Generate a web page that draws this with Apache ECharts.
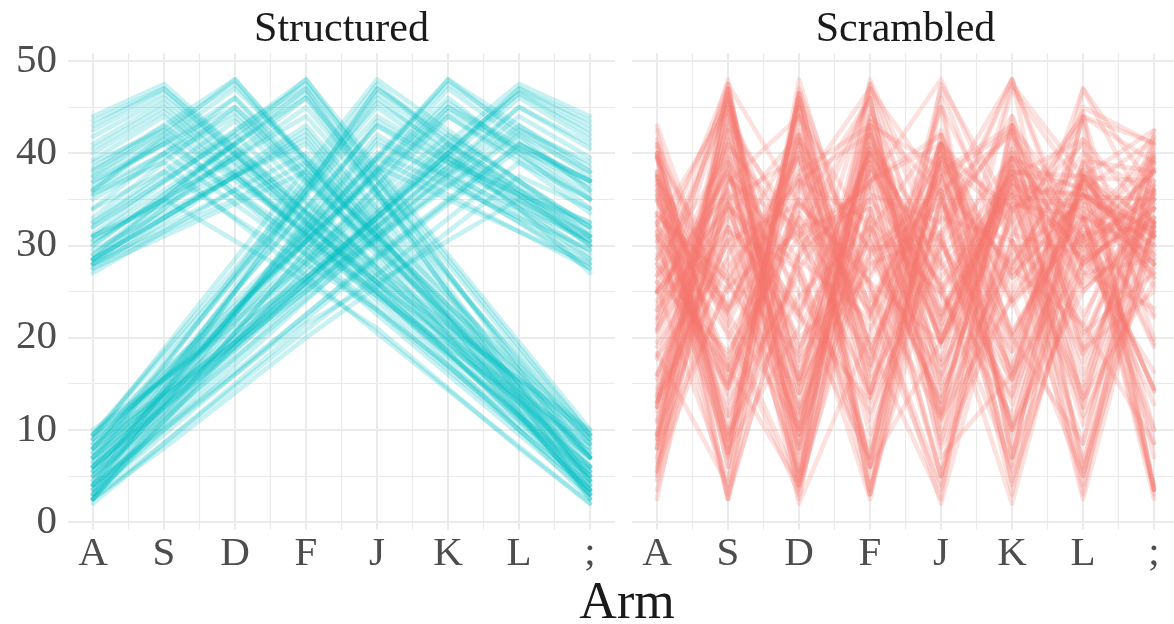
<!DOCTYPE html>
<html>
<head>
<meta charset="utf-8">
<script src="https://cdn.jsdelivr.net/npm/echarts/dist/echarts.min.js"></script>
<style>
  html, body { margin: 0; padding: 0; background: #ffffff; }
  #chart { width: 1174px; height: 624px; }
</style>
</head>
<body>
<div id="chart"></div>
<script>
// Arms, in the order they appear on the keyboard home row
const categories = ['A', 'S', 'D', 'F', 'J', 'K', 'L', ';'];
const yTicks = [0, 10, 20, 30, 40, 50];

// Structured rewards, grouped by the arm that holds the best reward
const structuredPeakS = [
  [43.0, 47.0, 39.8, 32.7, 25.5, 18.3, 11.2, 4.0],
  [40.5, 45.0, 38.7, 32.3, 26.0, 19.7, 13.3, 7.0],
  [38.2, 42.0, 35.5, 29.0, 22.5, 16.0, 9.5, 3.0],
  [41.8, 46.0, 39.8, 33.7, 27.5, 21.3, 15.2, 9.0],
  [35.6, 39.0, 32.8, 26.7, 20.5, 14.3, 8.2, 2.0],
  [39.3, 44.0, 37.6, 31.2, 24.8, 18.3, 11.9, 5.5],
  [44.0, 47.5, 40.6, 33.7, 26.8, 19.8, 12.9, 6.0],
  [36.9, 41.0, 35.5, 30.0, 24.5, 19.0, 13.5, 8.0],
  [38.5, 43.0, 37.5, 32.0, 26.5, 21.0, 15.5, 10.0],
  [31.0, 35.0, 30.5, 26.0, 21.0, 14.5, 8.0, 2.0],
  [42.5, 46.5, 40.0, 33.5, 27.0, 20.5, 14.0, 7.5],
  [37.5, 41.5, 36.0, 30.5, 25.0, 19.0, 13.0, 7.0],
  [40.0, 44.5, 38.0, 31.0, 24.0, 17.0, 10.0, 3.5],
  [36.0, 40.0, 34.5, 29.0, 23.0, 17.0, 11.0, 5.0],
  [43.5, 47.0, 40.5, 34.5, 28.0, 21.5, 15.5, 9.5],
  [34.0, 38.0, 33.0, 28.0, 23.0, 16.5, 10.0, 3.5],
  [41.0, 45.5, 39.0, 32.5, 25.5, 18.5, 11.5, 4.5],
  [39.0, 42.5, 37.0, 31.5, 26.0, 20.0, 14.0, 8.5]
];
const structuredPeakD = [
  [38.0, 43.0, 48.0, 39.4, 30.8, 22.2, 13.6, 5.0],
  [34.0, 40.0, 46.0, 37.4, 28.8, 20.2, 11.6, 3.0],
  [35.0, 39.5, 44.0, 36.8, 29.6, 22.4, 15.2, 8.0],
  [27.0, 31.5, 36.0, 29.6, 23.2, 16.8, 10.4, 4.0],
  [32.0, 37.0, 42.0, 34.8, 27.6, 20.4, 13.2, 6.0],
  [36.0, 41.5, 47.0, 39.5, 32.0, 24.5, 17.0, 9.5],
  [29.0, 34.5, 40.0, 32.5, 25.0, 17.5, 10.0, 2.5],
  [37.0, 41.0, 45.0, 37.4, 29.8, 22.2, 14.6, 7.0],
  [31.0, 34.5, 38.0, 31.4, 24.8, 18.2, 11.6, 5.0],
  [36.0, 42.0, 48.0, 39.1, 30.2, 21.3, 12.4, 3.5],
  [33.0, 39.0, 45.0, 38.0, 31.0, 23.5, 16.5, 9.0],
  [30.0, 35.5, 41.0, 33.5, 26.0, 18.5, 11.0, 3.5],
  [37.5, 42.5, 47.5, 39.0, 30.5, 21.5, 13.0, 4.5],
  [28.5, 33.0, 37.5, 31.0, 24.5, 18.0, 11.5, 5.5],
  [35.5, 40.0, 44.5, 37.0, 29.5, 22.0, 14.5, 7.5],
  [32.5, 38.0, 43.5, 35.5, 27.5, 19.5, 11.5, 3.0],
  [36.5, 41.0, 46.0, 38.5, 31.0, 23.5, 16.0, 8.5],
  [30.5, 35.0, 39.5, 33.0, 26.0, 19.5, 12.5, 6.0]
];
const structuredPeakF = [
  [31.2, 36.8, 42.4, 48.0, 38.5, 29.0, 19.5, 10.0],
  [28.0, 34.0, 40.0, 46.0, 35.5, 25.0, 14.5, 4.0],
  [28.0, 33.0, 38.0, 43.0, 34.0, 25.0, 16.0, 7.0],
  [32.0, 37.0, 42.0, 47.0, 35.9, 24.8, 13.6, 2.5],
  [28.0, 32.0, 36.0, 40.0, 31.3, 22.5, 13.8, 5.0],
  [28.5, 34.0, 39.5, 45.0, 35.9, 26.8, 17.6, 8.5],
  [28.5, 35.0, 41.5, 48.0, 37.5, 27.0, 16.5, 6.0],
  [27.5, 31.0, 34.5, 38.0, 29.3, 20.5, 11.8, 3.0],
  [30.5, 35.0, 39.5, 44.0, 35.3, 26.5, 17.8, 9.0],
  [28.5, 33.0, 37.5, 42.0, 32.6, 23.3, 13.9, 4.5],
  [29.0, 35.0, 41.0, 47.0, 37.0, 27.0, 17.0, 7.0],
  [27.5, 32.5, 37.5, 42.5, 33.5, 24.0, 14.5, 5.5],
  [31.0, 36.0, 41.0, 46.0, 37.0, 28.0, 18.5, 9.5],
  [29.5, 33.5, 37.5, 41.5, 32.0, 22.5, 13.0, 3.5],
  [30.0, 35.5, 41.0, 46.5, 36.0, 25.5, 15.0, 4.5],
  [28.0, 31.5, 35.0, 39.0, 31.0, 23.0, 15.0, 7.0],
  [32.5, 37.5, 42.5, 47.5, 38.0, 28.5, 19.0, 9.5],
  [28.5, 33.0, 37.5, 41.0, 31.5, 22.0, 12.0, 2.5]
];
const structuredPeakJ = [
  [9.0, 18.8, 28.5, 38.3, 48.0, 42.5, 37.0, 31.5],
  [4.0, 14.5, 25.0, 35.5, 46.0, 40.0, 34.0, 27.0],
  [7.0, 16.0, 25.0, 34.0, 43.0, 38.0, 33.5, 29.5],
  [3.0, 14.0, 25.0, 36.0, 47.0, 42.0, 37.0, 32.0],
  [5.5, 14.1, 22.8, 31.4, 40.0, 36.5, 33.0, 29.5],
  [8.0, 17.3, 26.5, 35.8, 45.0, 39.5, 34.0, 28.5],
  [6.5, 16.8, 27.0, 37.3, 47.5, 41.0, 36.0, 31.0],
  [2.5, 11.5, 20.5, 29.5, 38.5, 35.0, 31.5, 28.0],
  [9.5, 18.1, 26.8, 35.4, 44.0, 39.5, 35.0, 30.5],
  [4.0, 13.5, 23.0, 32.5, 42.0, 37.5, 33.0, 28.5],
  [7.5, 17.0, 26.5, 36.5, 46.5, 41.0, 35.5, 30.0],
  [3.5, 13.0, 22.5, 32.0, 41.5, 37.0, 32.5, 27.5],
  [9.5, 18.5, 27.5, 36.5, 45.5, 40.5, 35.5, 31.0],
  [5.0, 14.0, 23.0, 32.0, 41.0, 37.5, 34.0, 30.5],
  [4.5, 15.0, 25.5, 36.0, 47.0, 41.5, 36.0, 30.0],
  [8.0, 16.0, 24.0, 31.5, 39.5, 35.5, 31.5, 27.5],
  [2.5, 12.5, 22.5, 33.0, 43.5, 39.0, 34.5, 29.0],
  [6.0, 15.5, 25.0, 34.0, 43.0, 39.0, 35.5, 32.5]
];
const structuredPeakK = [
  [4.0, 12.8, 21.6, 30.4, 39.2, 48.0, 43.0, 38.0],
  [7.0, 14.8, 22.6, 30.4, 38.2, 46.0, 40.0, 34.0],
  [2.5, 10.8, 19.1, 27.4, 35.7, 44.0, 39.5, 35.0],
  [5.0, 11.4, 17.8, 24.2, 30.6, 37.0, 32.5, 28.0],
  [9.0, 15.6, 22.2, 28.8, 35.4, 42.0, 37.0, 32.0],
  [3.0, 11.8, 20.6, 29.4, 38.2, 47.0, 41.5, 36.0],
  [6.0, 12.8, 19.6, 26.4, 33.2, 40.0, 35.0, 30.0],
  [8.5, 15.8, 23.1, 30.4, 37.7, 45.0, 41.0, 37.0],
  [3.5, 10.6, 17.7, 24.8, 31.9, 39.0, 35.5, 32.0],
  [6.0, 14.4, 22.8, 31.2, 39.6, 48.0, 42.0, 36.0],
  [8.0, 15.5, 23.0, 30.5, 38.0, 45.5, 40.5, 35.5],
  [3.5, 11.0, 18.5, 26.0, 33.5, 41.0, 36.5, 31.0],
  [5.5, 14.0, 22.5, 31.0, 39.5, 47.5, 42.5, 37.5],
  [6.5, 13.0, 19.5, 26.0, 32.5, 38.5, 34.5, 30.5],
  [2.5, 11.0, 19.5, 28.0, 36.5, 45.0, 40.0, 35.0],
  [9.5, 16.5, 23.5, 30.5, 37.5, 44.0, 39.0, 33.5],
  [4.5, 12.5, 20.5, 28.5, 36.5, 44.5, 40.5, 37.0],
  [7.0, 13.5, 20.0, 26.5, 33.0, 39.5, 36.0, 32.5]
];
const structuredPeakL = [
  [5.0, 12.0, 19.0, 26.0, 33.0, 40.0, 47.0, 43.0],
  [3.0, 10.0, 17.0, 24.0, 31.0, 38.0, 45.0, 40.5],
  [8.0, 13.7, 19.3, 25.0, 30.7, 36.3, 42.0, 38.0],
  [7.0, 13.5, 20.0, 26.5, 33.0, 39.5, 46.0, 41.5],
  [2.5, 8.6, 14.7, 20.8, 26.8, 32.9, 39.0, 35.0],
  [6.0, 12.3, 18.7, 25.0, 31.3, 37.7, 44.0, 39.5],
  [9.0, 15.4, 21.8, 28.3, 34.7, 41.1, 47.5, 44.0],
  [4.0, 10.2, 16.3, 22.5, 28.7, 34.8, 41.0, 37.0],
  [2.0, 8.5, 15.0, 21.5, 26.0, 30.5, 35.0, 31.0],
  [10.0, 15.5, 21.0, 26.5, 32.0, 37.5, 43.0, 38.5],
  [7.5, 14.0, 20.5, 27.0, 33.5, 40.0, 46.5, 42.5],
  [4.0, 10.0, 16.0, 22.5, 29.0, 35.0, 41.0, 37.0],
  [9.5, 15.5, 21.5, 28.0, 34.0, 40.5, 46.5, 42.0],
  [3.0, 9.5, 16.0, 22.0, 28.5, 34.5, 40.5, 36.5],
  [5.5, 12.5, 19.5, 26.0, 33.0, 40.0, 47.0, 43.5],
  [2.5, 8.0, 14.0, 20.0, 25.5, 31.5, 37.5, 34.0],
  [8.5, 14.0, 19.5, 25.5, 31.0, 36.5, 42.5, 39.0],
  [6.0, 12.5, 19.0, 25.5, 32.0, 38.5, 45.0, 41.0]
];

// Scrambled rewards: the same kinds of reward sets with the arms shuffled
const scrambledSetS = [
  [18.3, 4.0, 47.0, 25.5, 11.2, 43.0, 32.7, 39.8],
  [32.3, 45.0, 7.0, 40.5, 19.7, 38.7, 13.3, 26.0],
  [9.5, 29.0, 42.0, 3.0, 35.5, 16.0, 38.2, 22.5],
  [39.8, 15.2, 33.7, 46.0, 9.0, 27.5, 21.3, 41.8],
  [26.7, 35.6, 2.0, 20.5, 39.0, 8.2, 32.8, 14.3],
  [5.5, 37.6, 24.8, 11.9, 31.2, 44.0, 18.3, 39.3],
  [40.6, 12.9, 26.8, 6.0, 47.5, 33.7, 44.0, 19.8],
  [13.5, 41.0, 30.0, 36.9, 8.0, 24.5, 35.5, 19.0],
  [21.0, 32.0, 10.0, 43.0, 38.5, 15.5, 37.5, 26.5],
  [30.5, 8.0, 21.0, 35.0, 26.0, 2.0, 31.0, 14.5],
  [40.0, 7.5, 46.5, 14.0, 33.5, 42.5, 20.5, 27.0],
  [25.0, 36.0, 19.0, 30.5, 13.0, 37.5, 41.5, 7.0],
  [24.0, 38.0, 17.0, 40.0, 10.0, 31.0, 44.5, 3.5],
  [11.0, 34.5, 23.0, 40.0, 17.0, 29.0, 5.0, 36.0],
  [9.5, 47.0, 15.5, 43.5, 21.5, 40.5, 28.0, 34.5],
  [28.0, 16.5, 33.0, 23.0, 3.5, 34.0, 38.0, 10.0],
  [32.5, 11.5, 45.5, 4.5, 41.0, 18.5, 39.0, 25.5],
  [37.0, 26.0, 14.0, 31.5, 42.5, 20.0, 8.5, 39.0]
];
const scrambledSetD = [
  [22.2, 48.0, 5.0, 43.0, 13.6, 39.4, 30.8, 38.0],
  [37.4, 3.0, 28.8, 46.0, 11.6, 40.0, 20.2, 34.0],
  [8.0, 36.8, 44.0, 15.2, 29.6, 39.5, 22.4, 35.0],
  [31.5, 16.8, 4.0, 29.6, 36.0, 10.4, 27.0, 23.2],
  [13.2, 27.6, 37.0, 6.0, 42.0, 20.4, 34.8, 32.0],
  [39.5, 9.5, 24.5, 32.0, 17.0, 47.0, 36.0, 41.5],
  [2.5, 40.0, 17.5, 29.0, 34.5, 10.0, 25.0, 32.5],
  [29.8, 14.6, 41.0, 22.2, 45.0, 7.0, 37.4, 37.0],
  [24.8, 38.0, 11.6, 31.0, 5.0, 34.5, 18.2, 31.4],
  [36.0, 21.3, 39.1, 3.5, 30.2, 48.0, 12.4, 42.0],
  [38.0, 9.0, 45.0, 16.5, 39.0, 23.5, 33.0, 31.0],
  [33.5, 26.0, 11.0, 41.0, 30.0, 18.5, 35.5, 3.5],
  [13.0, 30.5, 4.5, 39.0, 21.5, 47.5, 37.5, 42.5],
  [18.0, 28.5, 5.5, 33.0, 24.5, 11.5, 37.5, 31.0],
  [14.5, 44.5, 7.5, 40.0, 22.0, 37.0, 29.5, 35.5],
  [35.5, 11.5, 27.5, 38.0, 19.5, 32.5, 43.5, 3.0],
  [23.5, 41.0, 31.0, 46.0, 8.5, 38.5, 16.0, 36.5],
  [6.0, 26.0, 39.5, 19.5, 33.0, 30.5, 12.5, 35.0]
];
const scrambledSetF = [
  [19.5, 38.5, 10.0, 36.8, 48.0, 31.2, 29.0, 42.4],
  [40.0, 14.5, 46.0, 25.0, 4.0, 35.5, 34.0, 28.0],
  [16.0, 34.0, 28.0, 7.0, 38.0, 43.0, 25.0, 33.0],
  [35.9, 2.5, 37.0, 42.0, 24.8, 13.6, 47.0, 32.0],
  [5.0, 36.0, 22.5, 40.0, 28.0, 13.8, 31.3, 32.0],
  [26.8, 45.0, 8.5, 34.0, 17.6, 39.5, 35.9, 28.5],
  [37.5, 16.5, 41.5, 6.0, 35.0, 48.0, 27.0, 28.5],
  [31.0, 20.5, 3.0, 38.0, 11.8, 29.3, 34.5, 27.5],
  [9.0, 44.0, 30.5, 17.8, 39.5, 26.5, 35.3, 35.0],
  [32.6, 13.9, 42.0, 23.3, 37.5, 4.5, 28.5, 33.0],
  [35.0, 7.0, 41.0, 17.0, 47.0, 27.0, 37.0, 29.0],
  [27.5, 14.5, 33.5, 24.0, 37.5, 42.5, 5.5, 32.5],
  [41.0, 9.5, 46.0, 18.5, 36.0, 28.0, 37.0, 31.0],
  [32.0, 22.5, 41.5, 29.5, 13.0, 37.5, 33.5, 3.5],
  [4.5, 46.5, 15.0, 41.0, 25.5, 36.0, 35.5, 30.0],
  [23.0, 35.0, 15.0, 28.0, 31.0, 7.0, 39.0, 31.5],
  [28.5, 47.5, 9.5, 42.5, 19.0, 38.0, 37.5, 32.5],
  [12.0, 37.5, 28.5, 22.0, 41.0, 33.0, 2.5, 31.5]
];
const scrambledSetJ = [
  [37.0, 9.0, 42.5, 18.8, 31.5, 48.0, 28.5, 38.3],
  [25.0, 46.0, 4.0, 34.0, 14.5, 28.0, 40.0, 35.5],
  [33.0, 25.0, 38.0, 43.0, 7.0, 16.0, 28.0, 34.0],
  [14.0, 37.0, 32.0, 3.0, 42.0, 25.0, 47.0, 36.0],
  [36.5, 22.8, 40.0, 29.5, 31.4, 5.5, 33.0, 14.1],
  [28.5, 39.5, 8.0, 45.0, 26.5, 35.8, 17.3, 34.0],
  [6.5, 47.5, 34.5, 27.0, 41.0, 16.8, 37.3, 28.0],
  [31.5, 2.5, 29.5, 35.0, 20.5, 38.5, 11.5, 28.0],
  [39.5, 26.8, 18.1, 44.0, 35.4, 9.5, 30.5, 35.0],
  [23.0, 33.0, 42.0, 13.5, 28.5, 37.5, 4.0, 32.5],
  [36.5, 7.5, 46.5, 17.0, 41.0, 26.5, 35.5, 30.0],
  [3.5, 32.0, 22.5, 13.0, 37.0, 27.5, 41.5, 32.5],
  [9.5, 45.5, 18.5, 40.5, 27.5, 36.5, 35.5, 31.0],
  [37.5, 23.0, 32.0, 34.0, 5.0, 30.5, 14.0, 41.0],
  [25.5, 4.5, 36.0, 47.0, 15.0, 41.5, 30.0, 36.0],
  [16.0, 31.5, 27.5, 8.0, 39.5, 24.0, 35.5, 31.5],
  [12.5, 43.5, 2.5, 39.0, 22.5, 34.5, 33.0, 29.0],
  [25.0, 34.0, 15.5, 35.5, 32.5, 43.0, 6.0, 39.0]
];
const scrambledSetK = [
  [43.0, 21.6, 4.0, 48.0, 30.4, 12.8, 39.2, 38.0],
  [30.4, 46.0, 22.6, 7.0, 40.0, 34.0, 14.8, 38.2],
  [10.8, 35.0, 39.5, 19.1, 2.5, 44.0, 27.4, 35.7],
  [28.0, 17.8, 37.0, 32.5, 11.4, 24.2, 5.0, 30.6],
  [35.4, 9.0, 28.8, 37.0, 42.0, 15.6, 32.0, 22.2],
  [20.6, 41.5, 11.8, 47.0, 36.0, 3.0, 38.2, 29.4],
  [33.2, 26.4, 40.0, 6.0, 19.6, 35.0, 30.0, 12.8],
  [41.0, 23.1, 37.7, 15.8, 45.0, 30.4, 8.5, 37.0],
  [17.7, 39.0, 3.5, 31.9, 24.8, 35.5, 10.6, 32.0],
  [39.6, 6.0, 48.0, 22.8, 36.0, 42.0, 31.2, 14.4],
  [8.0, 45.5, 15.5, 40.5, 23.0, 35.5, 30.5, 38.0],
  [26.0, 18.5, 31.0, 36.5, 11.0, 33.5, 41.0, 3.5],
  [5.5, 42.5, 14.0, 47.5, 22.5, 37.5, 31.0, 39.5],
  [13.0, 30.5, 34.5, 26.0, 19.5, 38.5, 6.5, 32.5],
  [40.0, 2.5, 45.0, 11.0, 35.0, 19.5, 36.5, 28.0],
  [33.5, 23.5, 37.5, 9.5, 30.5, 16.5, 44.0, 39.0],
  [12.5, 40.5, 4.5, 44.5, 20.5, 37.0, 28.5, 36.5],
  [7.0, 33.0, 20.0, 26.5, 39.5, 32.5, 13.5, 36.0]
];
const scrambledSetL = [
  [26.0, 47.0, 12.0, 33.0, 5.0, 43.0, 19.0, 40.0],
  [38.0, 17.0, 45.0, 3.0, 40.5, 24.0, 31.0, 10.0],
  [13.7, 30.7, 8.0, 42.0, 25.0, 38.0, 36.3, 19.3],
  [41.5, 20.0, 33.0, 13.5, 46.0, 7.0, 26.5, 39.5],
  [20.8, 39.0, 26.8, 2.5, 35.0, 14.7, 32.9, 8.6],
  [37.7, 6.0, 44.0, 31.3, 12.3, 39.5, 18.7, 25.0],
  [9.0, 34.7, 21.8, 47.5, 28.3, 15.4, 44.0, 41.1],
  [34.8, 22.5, 10.2, 37.0, 41.0, 4.0, 28.7, 16.3],
  [31.0, 15.0, 35.0, 26.0, 2.0, 30.5, 21.5, 8.5],
  [15.5, 43.0, 32.0, 21.0, 38.5, 10.0, 37.5, 26.5],
  [42.5, 7.5, 46.5, 14.0, 40.0, 20.5, 33.5, 27.0],
  [29.0, 16.0, 35.0, 22.5, 41.0, 10.0, 37.0, 4.0],
  [21.5, 46.5, 9.5, 42.0, 15.5, 40.5, 28.0, 34.0],
  [22.0, 34.5, 9.5, 28.5, 16.0, 36.5, 3.0, 40.5],
  [12.5, 47.0, 5.5, 43.5, 19.5, 40.0, 26.0, 33.0],
  [8.0, 25.5, 31.5, 14.0, 37.5, 20.0, 34.0, 2.5],
  [8.5, 42.5, 14.0, 39.0, 19.5, 36.5, 25.5, 31.0],
  [19.0, 32.0, 12.5, 38.5, 25.5, 6.0, 45.0, 41.0]
];

const structuredRows = [].concat(structuredPeakS, structuredPeakD, structuredPeakF,
                                 structuredPeakJ, structuredPeakK, structuredPeakL);
const scrambledRows = [].concat(scrambledSetS, scrambledSetD, scrambledSetF,
                                scrambledSetJ, scrambledSetK, scrambledSetL);

const FONT = "'Liberation Serif', 'DejaVu Serif', serif";
const GRID_MAJOR = { color: '#EBEBEB', width: 2 };
const GRID_MINOR = { color: '#EBEBEB', width: 1.2 };
const TEAL = '#00BFC4';
const SALMON = '#F8766D';

// Panel geometry: each facet has a full-width backdrop grid (horizontal guides)
// and an inner grid spanning A..; that carries the lines and vertical guides.
const panels = [
  { title: 'Structured', rows: structuredRows, color: TEAL, left: 68, right: 615, firstArm: 93, lastArm: 590 },
  { title: 'Scrambled', rows: scrambledRows, color: SALMON, left: 632, right: 1179, firstArm: 657, lastArm: 1154 }
];
const PANEL_TOP = 61, PANEL_BOTTOM = 522;     // y = 50 and y = 0
const Y_LO = -0.85, Y_HI = 50.85;             // expanded data range of the inner grid
const pxPerUnit = (PANEL_BOTTOM - PANEL_TOP) / 50;
const innerTop = PANEL_TOP - (Y_HI - 50) * pxPerUnit;
const innerBottom = PANEL_BOTTOM + (0 - Y_LO) * pxPerUnit;

const grid = [], xAxis = [], yAxis = [], series = [], graphic = [];

panels.forEach((p, k) => {
  const bg = grid.length;
  grid.push({ left: p.left, top: PANEL_TOP, width: p.right - p.left, height: PANEL_BOTTOM - PANEL_TOP });
  xAxis.push({ gridIndex: bg, type: 'value', min: 0, max: 1, show: false });
  yAxis.push({
    gridIndex: bg, type: 'value', min: yTicks[0], max: yTicks[yTicks.length - 1], interval: 10,
    axisLine: { show: false }, axisTick: { show: false },
    axisLabel: { show: k === 0, color: '#4D4D4D', fontSize: 41, fontFamily: FONT, margin: 11 },
    splitLine: { show: true, lineStyle: GRID_MAJOR },
    minorTick: { show: false, splitNumber: 2 },
    minorSplitLine: { show: true, lineStyle: GRID_MINOR }
  });

  const fg = grid.length;
  grid.push({ left: p.firstArm, top: innerTop, width: p.lastArm - p.firstArm, height: innerBottom - innerTop });
  xAxis.push({
    gridIndex: fg, type: 'value', min: 0, max: categories.length - 1, interval: 1,
    axisLine: { show: false }, axisTick: { show: false },
    axisLabel: {
      color: '#4D4D4D', fontSize: 41, fontFamily: FONT, margin: 4,
      formatter: v => categories[v] !== undefined ? categories[v] : ''
    },
    splitLine: { show: true, lineStyle: GRID_MAJOR },
    minorTick: { show: false, splitNumber: 2 },
    minorSplitLine: { show: true, lineStyle: GRID_MINOR }
  });
  yAxis.push({ gridIndex: fg, type: 'value', min: Y_LO, max: Y_HI, show: false, splitLine: { show: false } });

  p.rows.forEach(row => {
    series.push({
      type: 'line',
      xAxisIndex: fg, yAxisIndex: fg,
      data: row.map((v, i) => [i, v]),
      symbol: 'none', silent: true, animation: false,
      lineStyle: { color: p.color, width: 4.6, opacity: 0.22, join: 'round', cap: 'round' },
      z: 2
    });
  });

  graphic.push({
    type: 'text',
    x: (p.left + p.right) / 2, y: 30,
    style: { text: p.title, font: `42px ${FONT}`, fill: '#1A1A1A', textAlign: 'center', textVerticalAlign: 'middle' }
  });
});

graphic.push({
  type: 'text', x: 627, y: 604,
  style: { text: 'Arm', font: `52px ${FONT}`, fill: '#1A1A1A', textAlign: 'center', textVerticalAlign: 'middle' }
});

const chart = echarts.init(document.getElementById('chart'), null, { renderer: 'canvas' });
chart.setOption({
  backgroundColor: '#ffffff',
  animation: false,
  grid, xAxis, yAxis, series, graphic
});
</script>
</body>
</html>
